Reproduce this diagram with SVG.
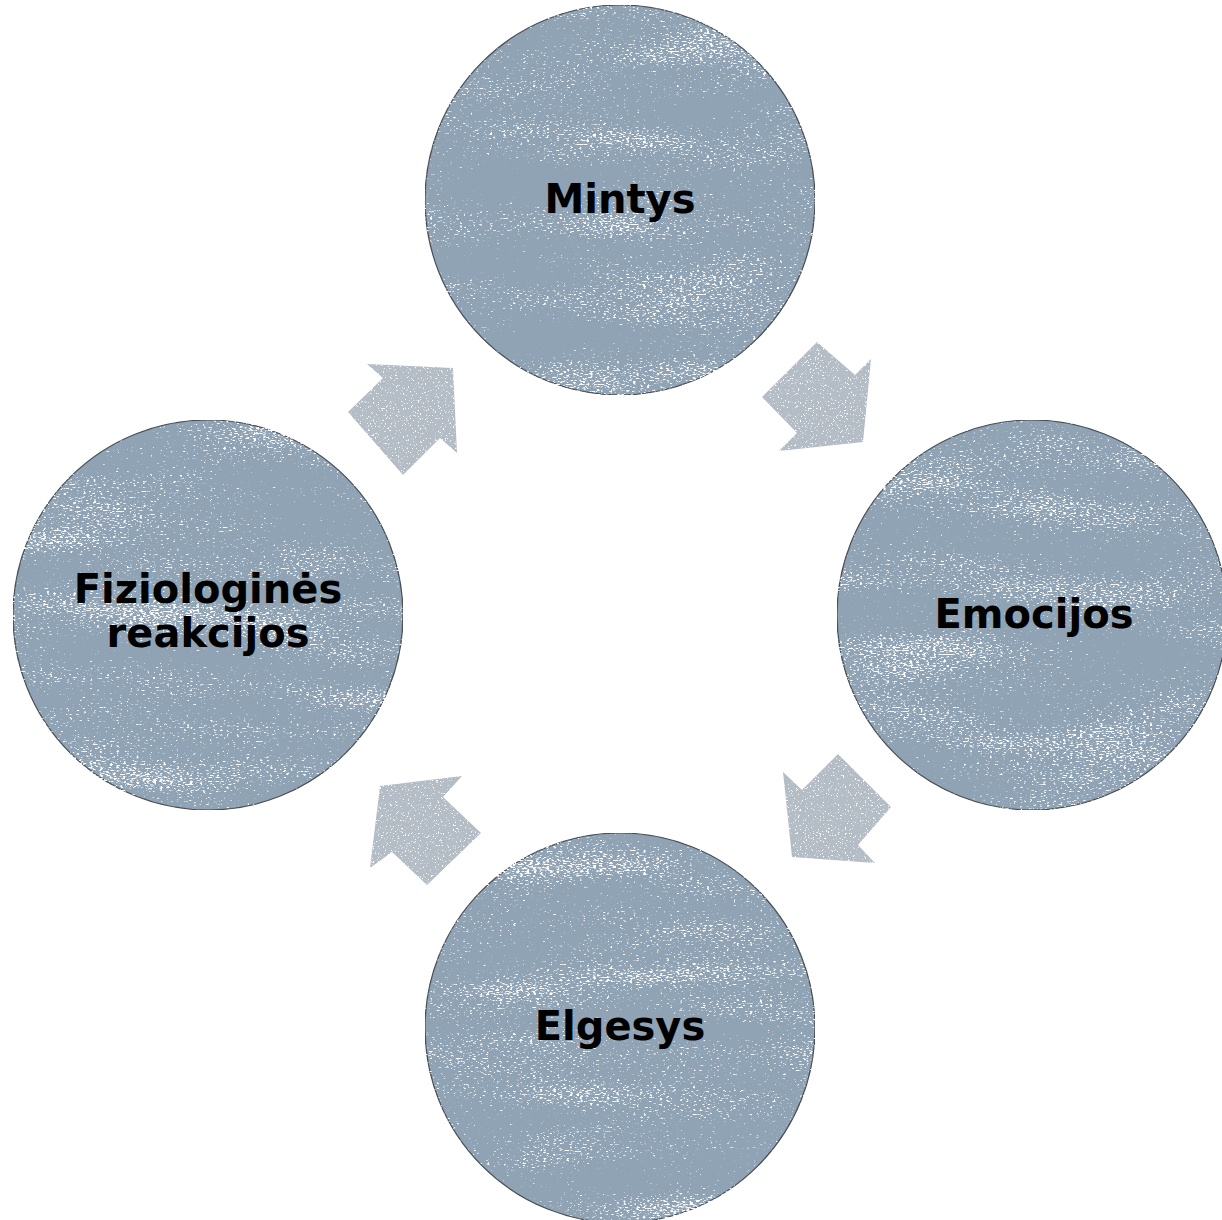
<svg xmlns="http://www.w3.org/2000/svg" width="1222" height="1220" viewBox="0 0 1222 1220">
  <defs>
    <filter id="grunge" x="0" y="0" width="100%" height="100%" color-interpolation-filters="sRGB">
      <feTurbulence type="fractalNoise" baseFrequency="0.3 0.7" numOctaves="2" seed="4" result="fine"/>
      <feColorMatrix in="fine" type="matrix" values="1 0 0 0 0  0 0 0 0 0  0 0 0 0 0  0 0 0 0 1" result="f1"/>
      <feTurbulence type="fractalNoise" baseFrequency="0.005 0.025" numOctaves="2" seed="11" result="band"/>
      <feColorMatrix in="band" type="matrix" values="1.6 0 0 0 -0.3  0 0 0 0 0  0 0 0 0 0  0 0 0 0 1" result="b1"/>
      <feComposite in="f1" in2="b1" operator="arithmetic" k1="0" k2="0.75" k3="0.25" k4="0" result="avg"/>
      <feColorMatrix in="avg" type="matrix" values="0 0 0 0 1  0 0 0 0 1  0 0 0 0 1  9 0 0 0 -5.4" result="dots"/>
      <feComposite in="dots" in2="SourceGraphic" operator="atop"/>
    </filter>
    <filter id="grunge2" x="0" y="0" width="100%" height="100%" color-interpolation-filters="sRGB">
      <feTurbulence type="fractalNoise" baseFrequency="0.6 0.6" numOctaves="2" seed="7" result="fine"/>
      <feColorMatrix in="fine" type="matrix" values="0 0 0 0 1  0 0 0 0 1  0 0 0 0 1  9 0 0 0 -5.6" result="dots"/>
      <feComposite in="dots" in2="SourceGraphic" operator="atop"/>
    </filter>
  </defs>
  <style>
    .node { fill: #8fa3b5; stroke: #4a4f55; stroke-width: 1.2; }
    .arrow { fill: #b4bcc6; stroke: none; }
    .label { font-family: "DejaVu Sans", "Liberation Sans", sans-serif; font-weight: bold; font-size: 40px; fill: #000; text-anchor: middle; }
  </style>
  <rect width="1222" height="1220" fill="#ffffff"/>

  <g id="connectors">
    <polygon class="arrow" filter="url(#grunge2)" points="367,364 453,368 457,453 440,438 403,475 348,412 383,378"/>
    <polygon class="arrow" filter="url(#grunge2)" points="817,342 855,375 871,359 863,442 779,451 797,433 762,397"/>
    <polygon class="arrow" filter="url(#grunge2)" points="783,772 802,790 838,754 891,807 858,845 875,863 792,857"/>
    <polygon class="arrow" filter="url(#grunge2)" points="380,786 462,776 443,797 481,833 427,885 392,852 370,868"/>
  </g>

  <g id="node-mintys">
    <circle class="node" filter="url(#grunge)" cx="620" cy="200" r="195"/>
    <text class="label" x="620" y="213">Mintys</text>
  </g>
  <g id="node-emocijos">
    <circle class="node" filter="url(#grunge)" cx="1032" cy="615" r="195"/>
    <text class="label" x="1034" y="628">Emocijos</text>
  </g>
  <g id="node-elgesys">
    <circle class="node" filter="url(#grunge)" cx="620" cy="1028" r="195"/>
    <text class="label" x="620" y="1040">Elgesys</text>
  </g>
  <g id="node-fiziologines">
    <circle class="node" filter="url(#grunge)" cx="208" cy="615" r="195"/>
    <text class="label" x="208" y="603">Fiziologinės</text>
    <text class="label" x="208" y="647">reakcijos</text>
  </g>
</svg>
